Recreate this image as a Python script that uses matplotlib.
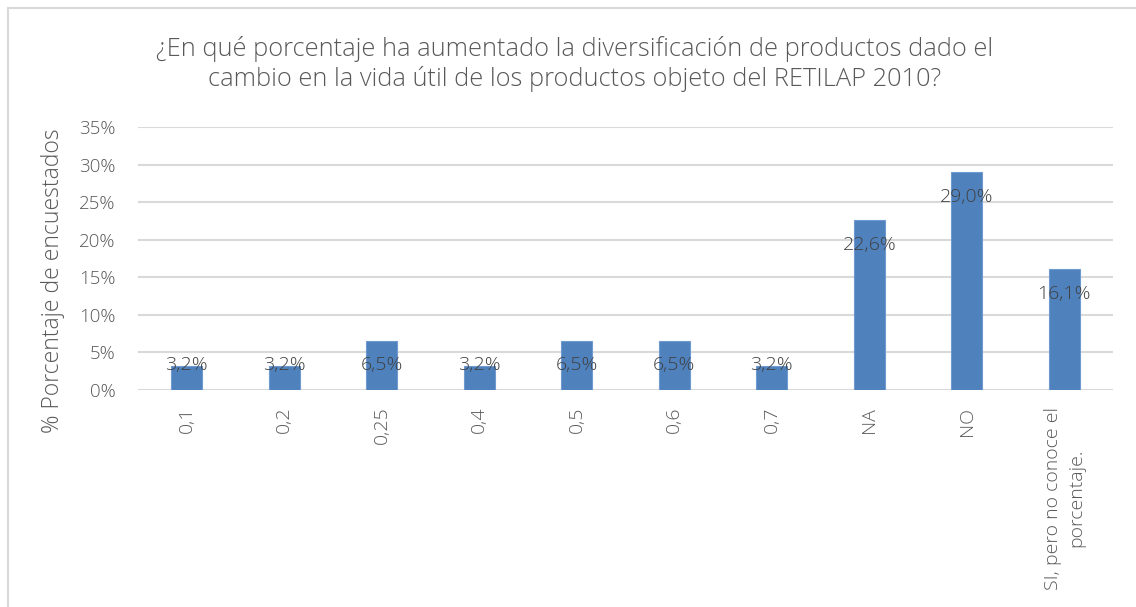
import matplotlib.pyplot as plt
from matplotlib.patches import Rectangle

# Data
categories = ["0,1", "0,2", "0,25", "0,4", "0,5", "0,6", "0,7", "NA", "NO",
              "SI, pero no conoce el\nporcentaje."]
values = [3.2, 3.2, 6.5, 3.2, 6.5, 6.5, 3.2, 22.6, 29.0, 16.1]
yticks = [0, 5, 10, 15, 20, 25, 30, 35]

title = ("¿En qué porcentaje ha aumentado la diversificación de productos dado el\n"
         "cambio en la vida útil de los productos objeto del RETILAP 2010?")

plt.rcParams['font.family'] = ['Open Sans', 'DejaVu Sans']
plt.rcParams['font.weight'] = 'light'

fig = plt.figure(figsize=(11.36, 6.07), dpi=100)
ax = fig.add_axes([0.1215, 0.3575, 0.8583, 0.4333])

# outer chart frame
fig.patches.append(Rectangle((8 / 1136, -0.1), 1.2, 1.1 - 8 / 607,
                             transform=fig.transFigure, fill=False,
                             edgecolor='#D9D9D9', linewidth=1.5))

x = range(len(categories))
ax.bar(x, values, width=0.32, color='#4F81BD', edgecolor='#6F9AD0',
       linewidth=0.8, zorder=3)

for i, v in enumerate(values):
    ypos = max(v - 3.3, 3.3)
    ax.text(i, ypos, f"{v:.1f}%".replace('.', ','), ha='center', va='center',
            fontsize=14, color='#404040', zorder=4)

ax.set_xlim(-0.5, len(categories) - 0.5)
ax.set_ylim(0, 35)
ax.set_yticks(yticks)
ax.set_yticklabels([f"{t}%" for t in yticks])
ax.set_xticks(list(x))
ax.set_xticklabels(categories, rotation=90, va='top', ha='center',
                   multialignment='center', linespacing=1.4)
ax.tick_params(axis='both', length=0, labelsize=13.5, labelcolor='#595959')
ax.tick_params(axis='x', labelsize=14, pad=12)
ax.tick_params(axis='y', pad=16)

ax.grid(axis='y', color='#D9D9D9', linewidth=1.5, zorder=0)
for s in ax.spines.values():
    s.set_visible(False)

ax.set_ylabel("% Porcentaje de encuestados", fontsize=16.5, color='#595959',
              fontweight='light')
ax.yaxis.set_label_coords(-0.075, 0.414)

fig.text(0.506, 0.94, title, ha='center', va='top', fontsize=18.3,
         color='#595959', linespacing=1.2)

fig.savefig("out.png", dpi=100)
